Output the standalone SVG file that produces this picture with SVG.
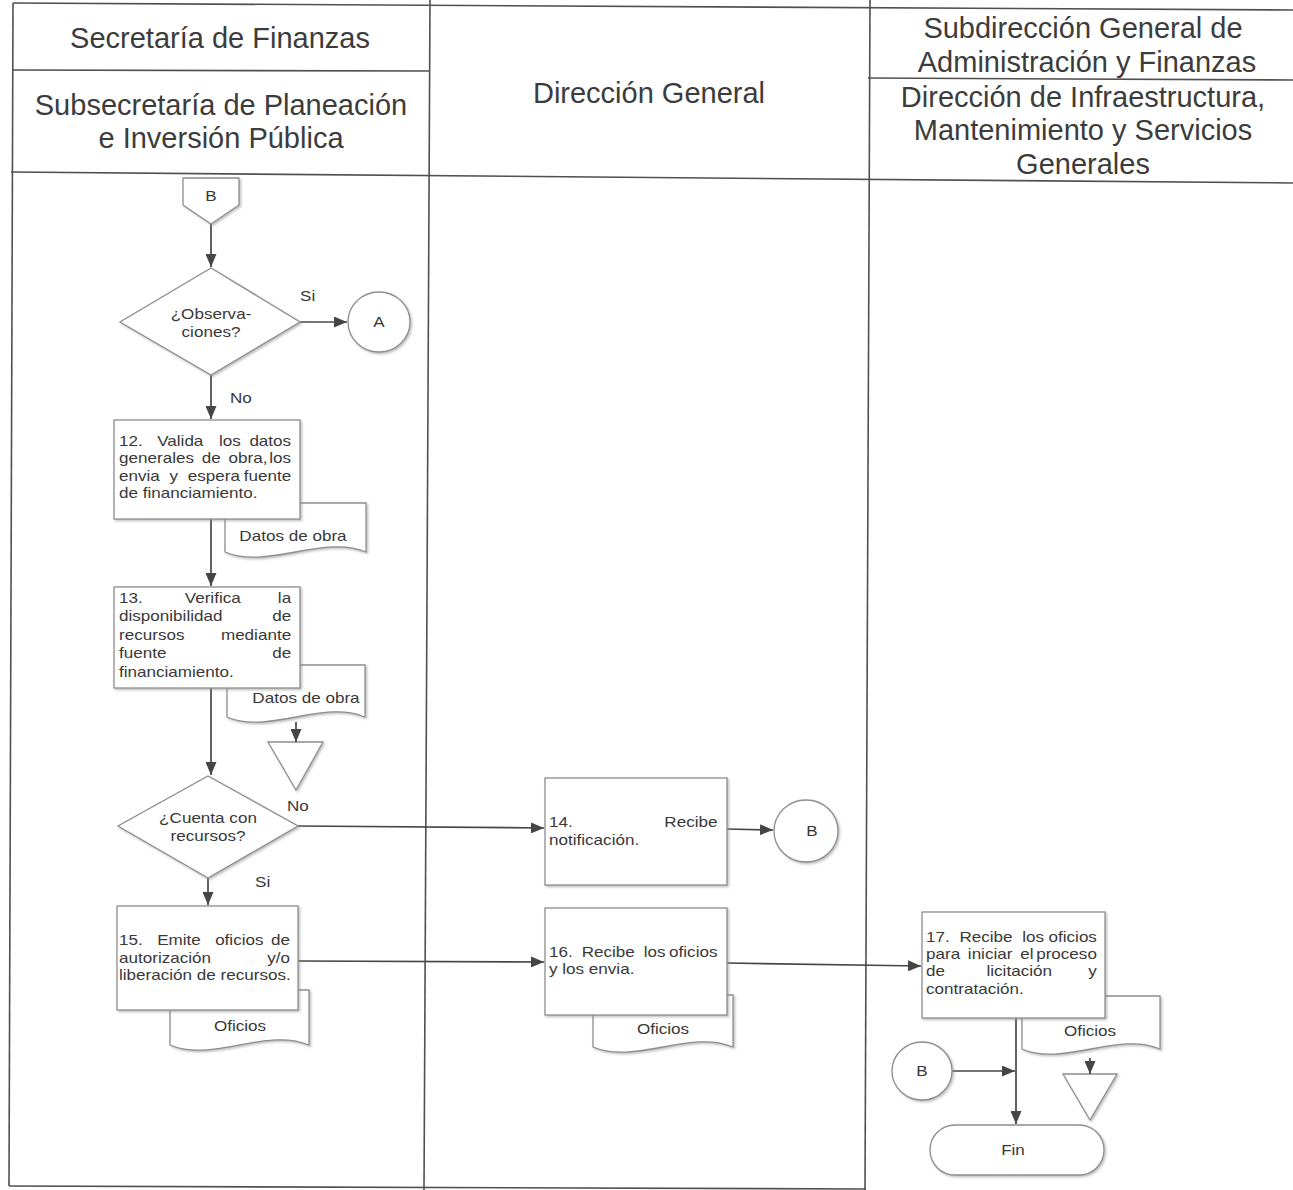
<svg xmlns="http://www.w3.org/2000/svg" width="1293" height="1190" viewBox="0 0 1293 1190">
  <defs>
    <marker id="arr" markerUnits="userSpaceOnUse" markerWidth="13" markerHeight="11" refX="13" refY="5.5" orient="auto">
      <path d="M0,0 L13,5.5 L0,11 z" fill="#454545"/>
    </marker>
    <filter id="sh" x="-10%" y="-10%" width="125%" height="125%">
      <feDropShadow dx="1.5" dy="1.5" stdDeviation="0.8" flood-color="#8a8a8a" flood-opacity="0.55"/>
    </filter>
  </defs>
  <style>
    .grid { stroke: #505050; stroke-width: 1.6; fill: none; }
    .hd { font-family: "Liberation Sans", Arial, sans-serif; font-size: 29px; fill: #3c3c3c; text-anchor: middle; }
    .t { font-family: "Liberation Sans", Arial, sans-serif; font-size: 14px; fill: #383838; }
    .c { text-anchor: middle; }
    .e { text-anchor: end; }
    .shape { fill: #ffffff; stroke: #8e8e8e; stroke-width: 1.3; filter: url(#sh); }
    .conn { stroke: #474747; stroke-width: 1.7; fill: none; }
    .arrow { marker-end: url(#arr); }
  </style>

  <rect width="1293" height="1190" fill="#ffffff"/>

  <!-- swimlane table -->
  <g id="table">
    <line class="grid" x1="13" y1="3" x2="1293" y2="10"/>
    <line class="grid" x1="13" y1="3" x2="9" y2="1186"/>
    <line class="grid" x1="430" y1="0" x2="424" y2="1190"/>
    <line class="grid" x1="870" y1="0" x2="865" y2="1190"/>
    <line class="grid" x1="13" y1="70" x2="430" y2="71"/>
    <line class="grid" x1="868" y1="78" x2="1293" y2="80"/>
    <line class="grid" x1="11" y1="172" x2="1293" y2="183"/>
    <line class="grid" x1="9" y1="1186" x2="866" y2="1189"/>
  </g>

  <!-- lane headers -->
  <g id="headers">
    <text class="hd" x="220" y="48">Secretaría de Finanzas</text>
    <text class="hd" x="221" y="115">Subsecretaría de Planeación</text>
    <text class="hd" x="221" y="148">e Inversión Pública</text>
    <text class="hd" x="649" y="103">Dirección General</text>
    <text class="hd" x="1083" y="38">Subdirección General de</text>
    <text class="hd" x="1087" y="72">Administración y Finanzas</text>
    <text class="hd" x="1083" y="107">Dirección de Infraestructura,</text>
    <text class="hd" x="1083" y="140">Mantenimiento y Servicios</text>
    <text class="hd" x="1083" y="174">Generales</text>
  </g>

  <!-- documents (drawn beneath the process boxes) -->
  <g id="doc-datos-1">
    <path class="shape" d="M225,503 H366 V552 C324,534 267,570 225,552 Z"/>
    <text class="t c" transform="translate(293,0) scale(1.22,1)" x="0" y="541">Datos de obra</text>
  </g>
  <g id="doc-datos-2">
    <path class="shape" d="M227,665 H365 V717 C324,699 268,735 227,717 Z"/>
    <text class="t c" transform="translate(306,0) scale(1.22,1)" x="0" y="703">Datos de obra</text>
  </g>
  <g id="doc-oficios-1">
    <path class="shape" d="M170,990 H309 V1045 C267,1027 211,1063 170,1045 Z"/>
    <text class="t c" transform="translate(240,0) scale(1.22,1)" x="0" y="1031">Oficios</text>
  </g>
  <g id="doc-oficios-2">
    <path class="shape" d="M593,995 H733 V1047 C691,1029 635,1065 593,1047 Z"/>
    <text class="t c" transform="translate(663,0) scale(1.22,1)" x="0" y="1034">Oficios</text>
  </g>
  <g id="doc-oficios-3">
    <path class="shape" d="M1022,996 H1160 V1049 C1119,1031 1063,1067 1022,1049 Z"/>
    <text class="t c" transform="translate(1090,0) scale(1.22,1)" x="0" y="1036">Oficios</text>
  </g>

  <!-- archive triangles -->
  <g id="archivo-1">
    <polygon class="shape" points="268,742 323,742 296,790"/>
  </g>
  <g id="archivo-2">
    <polygon class="shape" points="1063,1074 1117,1074 1090,1120"/>
  </g>

  <!-- connectors -->
  <g id="connectors">
    <line class="conn arrow" x1="211" y1="224" x2="211" y2="267"/>
    <line class="conn arrow" x1="300" y1="322" x2="347" y2="322"/>
    <line class="conn arrow" x1="211" y1="375" x2="211" y2="419"/>
    <line class="conn arrow" x1="211" y1="519" x2="211" y2="586"/>
    <line class="conn arrow" x1="211" y1="688" x2="211" y2="775"/>
    <line class="conn arrow" x1="296" y1="722" x2="296" y2="742"/>
    <line class="conn arrow" x1="298" y1="826" x2="544" y2="828"/>
    <line class="conn arrow" x1="727" y1="829" x2="773" y2="830"/>
    <line class="conn arrow" x1="208" y1="878" x2="208" y2="905"/>
    <line class="conn arrow" x1="298" y1="961" x2="544" y2="962"/>
    <line class="conn arrow" x1="727" y1="963" x2="921" y2="966"/>
    <line class="conn arrow" x1="1016" y1="1018" x2="1016" y2="1124"/>
    <line class="conn arrow" x1="952" y1="1071" x2="1015" y2="1071"/>
    <line class="conn arrow" x1="1090" y1="1058" x2="1090" y2="1074"/>
  </g>

  <!-- connector labels -->
  <g id="labels">
    <text class="t" transform="translate(300,0) scale(1.22,1)" x="0" y="301">Si</text>
    <text class="t" transform="translate(230,0) scale(1.22,1)" x="0" y="403">No</text>
    <text class="t" transform="translate(287,0) scale(1.22,1)" x="0" y="811">No</text>
    <text class="t" transform="translate(255,0) scale(1.22,1)" x="0" y="887">Si</text>
  </g>

  <!-- off-page connector B -->
  <g id="conector-b-entrada">
    <polygon class="shape" points="183,178 239,178 239,205 211,224 183,205"/>
    <text class="t c" transform="translate(211,0) scale(1.22,1)" x="0" y="201">B</text>
  </g>

  <!-- decision: observaciones -->
  <g id="decision-observaciones">
    <polygon class="shape" points="211,268 300,322 211,375 120,322"/>
    <text class="t c" transform="translate(211,0) scale(1.22,1)" x="0" y="319">¿Observa-</text>
    <text class="t c" transform="translate(211,0) scale(1.22,1)" x="0" y="337">ciones?</text>
  </g>

  <!-- connector A -->
  <g id="conector-a">
    <ellipse class="shape" cx="379" cy="322" rx="31" ry="30"/>
    <text class="t c" transform="translate(379,0) scale(1.22,1)" x="0" y="327">A</text>
  </g>

  <!-- step 12 -->
  <g id="paso-12">
    <rect class="shape" x="114" y="420" width="186" height="99"/>
    <text class="t" transform="translate(119,0) scale(1.22,1)">
      <tspan x="0" y="446">12.</tspan><tspan x="31.3" y="446">Valida</tspan><tspan x="82" y="446">los</tspan><tspan class="e" x="145" y="446">datos</tspan>
      <tspan x="0" y="463.5">generales</tspan><tspan x="67.8" y="463.5">de</tspan><tspan x="89.8" y="463.5">obra,</tspan><tspan class="e" x="145" y="463.5">los</tspan>
      <tspan x="0" y="481">envia</tspan><tspan x="41.4" y="481">y</tspan><tspan x="56.3" y="481">espera</tspan><tspan class="e" x="145" y="481">fuente</tspan>
      <tspan x="0" y="498.5">de financiamiento.</tspan>
    </text>
  </g>

  <!-- step 13 -->
  <g id="paso-13">
    <rect class="shape" x="114" y="587" width="186" height="101"/>
    <text class="t" transform="translate(119,0) scale(1.22,1)">
      <tspan x="0" y="603">13.</tspan><tspan x="53.9" y="603">Verifica</tspan><tspan class="e" x="145" y="603">la</tspan>
      <tspan x="0" y="621.5">disponibilidad</tspan><tspan class="e" x="145" y="621.5">de</tspan>
      <tspan x="0" y="640">recursos</tspan><tspan class="e" x="145" y="640">mediante</tspan>
      <tspan x="0" y="658.5">fuente</tspan><tspan class="e" x="145" y="658.5">de</tspan>
      <tspan x="0" y="677">financiamiento.</tspan>
    </text>
  </g>

  <!-- decision: recursos -->
  <g id="decision-recursos">
    <polygon class="shape" points="208,776 298,826 208,878 118,826"/>
    <text class="t c" transform="translate(208,0) scale(1.22,1)" x="0" y="823">¿Cuenta con</text>
    <text class="t c" transform="translate(208,0) scale(1.22,1)" x="0" y="841">recursos?</text>
  </g>

  <!-- step 14 -->
  <g id="paso-14">
    <rect class="shape" x="545" y="778" width="182" height="107"/>
    <text class="t" transform="translate(549,0) scale(1.22,1)">
      <tspan x="0" y="827">14.</tspan><tspan class="e" x="142" y="827">Recibe</tspan>
      <tspan x="0" y="845">notificación.</tspan>
    </text>
  </g>

  <!-- connector B (Dirección General) -->
  <g id="conector-b-salida">
    <ellipse class="shape" cx="806" cy="831" rx="32" ry="31"/>
    <text class="t c" transform="translate(812,0) scale(1.22,1)" x="0" y="836">B</text>
  </g>

  <!-- step 15 -->
  <g id="paso-15">
    <rect class="shape" x="117" y="906" width="181" height="104"/>
    <text class="t" transform="translate(119,0) scale(1.22,1)">
      <tspan x="0" y="945">15.</tspan><tspan x="31.3" y="945">Emite</tspan><tspan x="78.8" y="945">oficios</tspan><tspan class="e" x="144" y="945">de</tspan>
      <tspan x="0" y="963">autorización</tspan><tspan class="e" x="144" y="963">y/o</tspan>
      <tspan x="0" y="980">liberación de recursos.</tspan>
    </text>
  </g>

  <!-- step 16 -->
  <g id="paso-16">
    <rect class="shape" x="545" y="908" width="182" height="107"/>
    <text class="t" transform="translate(549,0) scale(1.22,1)">
      <tspan x="0" y="957">16.</tspan><tspan x="26.8" y="957">Recibe</tspan><tspan x="77.7" y="957">los</tspan><tspan class="e" x="142" y="957">oficios</tspan>
      <tspan x="0" y="974">y los envia.</tspan>
    </text>
  </g>

  <!-- step 17 -->
  <g id="paso-17">
    <rect class="shape" x="922" y="912" width="183" height="106"/>
    <text class="t" transform="translate(926,0) scale(1.22,1)">
      <tspan x="0" y="942">17.</tspan><tspan x="27.4" y="942">Recibe</tspan><tspan x="78.8" y="942">los</tspan><tspan class="e" x="144" y="942">oficios</tspan>
      <tspan x="0" y="959">para</tspan><tspan x="34.3" y="959">iniciar</tspan><tspan x="77.2" y="959">el</tspan><tspan class="e" x="144" y="959">proceso</tspan>
      <tspan x="0" y="976">de</tspan><tspan x="49.6" y="976">licitación</tspan><tspan class="e" x="144" y="976">y</tspan>
      <tspan x="0" y="994">contratación.</tspan>
    </text>
  </g>

  <!-- connector B (Infraestructura) -->
  <g id="conector-b-final">
    <ellipse class="shape" cx="922" cy="1071" rx="30" ry="29"/>
    <text class="t c" transform="translate(922,0) scale(1.22,1)" x="0" y="1076">B</text>
  </g>

  <!-- end terminator -->
  <g id="fin">
    <rect class="shape" x="930" y="1125" width="174" height="50" rx="25" ry="25"/>
    <text class="t c" transform="translate(1013,0) scale(1.22,1)" x="0" y="1155">Fin</text>
  </g>
</svg>
